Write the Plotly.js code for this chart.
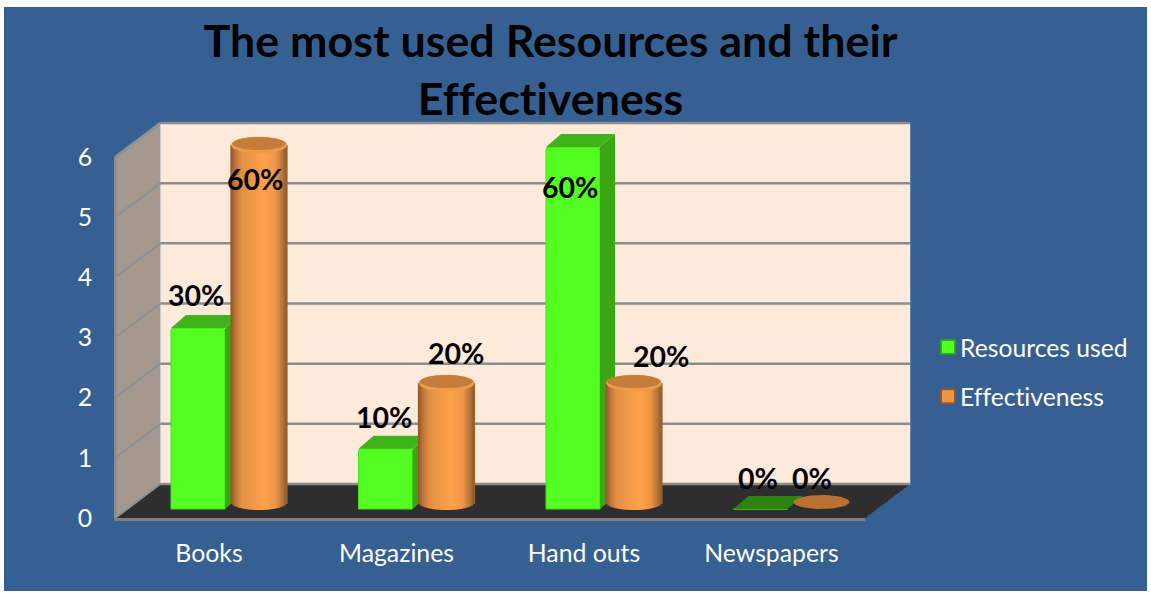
<!DOCTYPE html>
<html>
<head>
<meta charset="utf-8">
<script src="https://cdn.plot.ly/plotly-3.0.1.min.js"></script>
<style>
html,body{margin:0;padding:0;background:#fff}
svg text{font-variant-ligatures:none !important;font-feature-settings:"liga" 0,"clig" 0 !important}
</style>
</head>
<body>
<div id="chart" style="width:1151px;height:596px"></div>
<script>
// Chart data
const categories = ['Books', 'Magazines', 'Hand outs', 'Newspapers'];
const resourcesUsed = [3, 1, 6, 0];
const effectiveness = [6, 2, 2, 0];
const valueTicks = [0, 1, 2, 3, 4, 5, 6];
const resourceLabels = ['30%', '10%', '60%', '0%'];
const effectivenessLabels = ['60%', '20%', '20%', '0%'];
const chartTitle = 'The most used Resources and their<br>Effectiveness';

// Page size and the pixel scale of the coordinate frames
const W = 1151, H = 596;
const catPx = 187.5;          // pixels per category
const frontUnit = 60.17;      // pixels per value on the front frame (axis labels)
const frontZeroPx = 518, frontCatZeroPx = 209;
const barUnit = 60.33;        // pixels per value on the plane the columns stand on
const barZeroPx = 509, barCatZeroPx = 229;
const cylUnit = 59.5;         // pixels per value on the plane through the cylinder axes
const cylZeroPx = 502;
const depthX = 45, depthY = 34;  // chart box depth

// Bar geometry, in pixels
const boxWidth = 54, boxOffset = -31, boxDepthX = 15, boxDepthY = 13;
const cylWidth = 56, cylOffset = 30, cylRy = 8, stripCount = 28;

// Pixel nudges for the value labels, from each bar's top centre
const resourceNudge = [[-2, 33], [-2, 32], [-3, -39.5], [-3, 31.5]];
const effectNudge = [[-4, -31.5], [9, 35.5], [27, 32.5], [-10, 31.5]];

const font = 'Lato, Carlito, Calibri, sans-serif';
const px2cat = p => p / catPx;
const px2bar = p => p / barUnit;
const px2cyl = p => p / cylUnit;

const traces = [];
function poly(xs, ys, color, xa, ya) {
  traces.push({type: 'scatter', mode: 'lines', x: xs, y: ys, xaxis: xa, yaxis: ya,
    fill: 'toself', fillcolor: color, line: {width: 0, color: color},
    hoverinfo: 'skip', showlegend: false});
}
function stroke(xs, ys, color, width) {
  traces.push({type: 'scatter', mode: 'lines', x: xs, y: ys, xaxis: 'x', yaxis: 'y',
    line: {width: width, color: color}, hoverinfo: 'skip', showlegend: false});
}

// Chart box: walls and floor, on the front frame
const xL = -0.5, xR = categories.length - 0.5;
const dx = depthX / catPx, dy = depthY / frontUnit;
const vMax = valueTicks[valueTicks.length - 1];
poly([xL, xL + dx, xL + dx, xL], [0, dy, vMax + dy, vMax], '#A5988F', 'x', 'y');
poly([xL, xL + dx, xR + dx, xR], [0, dy, dy, 0], '#2E2E2E', 'x', 'y');
poly([xL + dx, xR + dx, xR + dx, xL + dx], [dy, dy, vMax + dy, vMax + dy], '#FDEADA', 'x', 'y');
valueTicks.forEach(v => {
  stroke([xL, xL + dx], [v, v + dy], '#8B9196', 2);
  stroke([xL + dx, xR + dx], [v + dy, v + dy], '#8C8C8C', 2.5);
});
stroke([xL, xL + dx], [vMax, vMax + dy], '#8B9196', 2.5);
stroke([xL, xL], [0, vMax], '#8A8C8E', 2.5);
stroke([xL - 0.005, xR], [-0.025, -0.025], '#7F7F7F', 3);

// Legend-only entries
traces.push({type: 'bar', name: 'Resources used', x: [null], y: [null], xaxis: 'x2', yaxis: 'y2',
  legendgroup: 'a', marker: {color: '#52FF20', line: {color: '#33A815', width: 1.5}}, hoverinfo: 'skip'});
traces.push({type: 'bar', name: 'Effectiveness', x: [null], y: [null], xaxis: 'x2', yaxis: 'y2',
  legendgroup: 'b', marker: {color: '#EE9645', line: {color: '#96591F', width: 1.5}}, hoverinfo: 'skip'});

// Resources used: square columns
traces.push({type: 'bar', name: 'Resources used', x: categories.map((_, i) => i + px2cat(boxOffset)),
  y: resourcesUsed, width: px2cat(boxWidth), xaxis: 'x2', yaxis: 'y2', showlegend: false,
  marker: {color: '#52FF20', cornerradius: 3, line: {color: '#46DC1B', width: 1}}, hoverinfo: 'x+y'});
resourcesUsed.forEach((v, i) => {
  const l = i + px2cat(boxOffset - boxWidth / 2), r = i + px2cat(boxOffset + boxWidth / 2);
  const ddx = px2cat(boxDepthX), ddy = px2bar(boxDepthY);
  if (v > 0) poly([r, r + ddx, r + ddx, r], [0, ddy, v + ddy, v], '#3CA715', 'x2', 'y2');
  poly([l, r, r + ddx, l + ddx], [v, v, v + ddy, v + ddy], v > 0 ? '#3FB31A' : '#2C8211', 'x2', 'y2');
});

// Effectiveness: cylinders, shaded with narrow vertical strips
const shadeStops = [[0, [138, 84, 36]], [0.08, [185, 115, 58]], [0.2, [227, 143, 67]], [0.6, [255, 162, 76]],
  [0.8, [238, 150, 69]], [0.93, [184, 116, 58]], [1, [143, 90, 42]]];
function shade(u) {
  for (let k = 1; k < shadeStops.length; k++) {
    if (u <= shadeStops[k][0]) {
      const a = shadeStops[k - 1], b = shadeStops[k], t = (u - a[0]) / (b[0] - a[0]);
      return 'rgb(' + a[1].map((c, j) => Math.round(c + (b[1][j] - c) * t)).join(',') + ')';
    }
  }
  return 'rgb(143,90,42)';
}
for (let k = 0; k < stripCount; k++) {
  const u = (k + 0.5) / stripCount, c = 2 * u - 1;
  const hPx = cylRy * Math.sqrt(1 - c * c);
  const offsetPx = cylOffset + c * cylWidth / 2;
  traces.push({type: 'bar', x: categories.map((_, i) => i + px2cat(offsetPx)),
    y: effectiveness.map(v => v > 0 ? v + px2cyl(hPx) : null),
    base: effectiveness.map(() => -px2cyl(hPx)),
    width: px2cat(cylWidth / stripCount + 1.2), xaxis: 'x3', yaxis: 'y3',
    marker: {color: shade(u), line: {width: 0}},
    name: 'Effectiveness', showlegend: false, hoverinfo: 'skip'});
}
function ellipse(i, v, scaleX, scaleY, shiftPx, color) {
  const xs = [], ys = [];
  for (let t = 0; t <= 48; t++) {
    const a = t / 48 * 2 * Math.PI;
    xs.push(i + px2cat(cylOffset + Math.cos(a) * cylWidth / 2 * scaleX));
    ys.push(v + px2cyl(shiftPx + Math.sin(a) * cylRy * scaleY));
  }
  poly(xs, ys, color, 'x3', 'y3');
}
effectiveness.forEach((v, i) => {
  if (v > 0) {
    ellipse(i, v, 1, 1.05, 0, '#EC9C4B');
    ellipse(i, v, 0.95, 0.82, 1.4, '#C67D39');
  } else {
    ellipse(i, v, 1, 0.88, 0, '#BA7232');
  }
});

// Value labels, anchored on the top of each bar
const annotations = [];
function addLabels(values, labels, offset, nudge) {
  values.forEach((v, i) => annotations.push({
    xref: 'x2', yref: 'y2', x: i + px2cat(offset), y: v, text: '<b>' + labels[i] + '</b>',
    showarrow: false, xanchor: 'center', yanchor: 'middle',
    xshift: nudge[i][0], yshift: nudge[i][1],
    font: {family: font, size: 28.5, color: '#000'}}));
}
addLabels(resourcesUsed, resourceLabels, boxOffset, resourceNudge);
addLabels(effectiveness, effectivenessLabels, cylOffset, effectNudge);

const barXRange = [-barCatZeroPx / catPx, (W - barCatZeroPx) / catPx];
const hiddenAxis = (range, over) => ({range, overlaying: over, visible: false, fixedrange: true});

const layout = {
  width: W, height: H, margin: {l: 0, r: 0, t: 0, b: 0},
  paper_bgcolor: '#fff', plot_bgcolor: 'rgba(0,0,0,0)', barmode: 'overlay',
  title: {text: '<b>' + chartTitle + '</b>', x: 550.5 / W, xanchor: 'center', y: 1 - 57 / H, yanchor: 'top',
    font: {family: font, size: 44.8, color: '#000'}},
  shapes: [{type: 'rect', xref: 'paper', yref: 'paper', x0: 4 / W, x1: 1147 / W, y0: 1 - 591 / H, y1: 1 - 7 / H,
    fillcolor: '#366092', line: {width: 0}, layer: 'below'}],
  xaxis: {range: [-frontCatZeroPx / catPx, (W - frontCatZeroPx) / catPx], tickvals: categories.map((_, i) => i),
    ticktext: categories, anchor: 'free', position: (H - frontZeroPx) / H, showgrid: false, zeroline: false,
    showline: false, ticks: 'outside', ticklen: 13, tickcolor: 'rgba(0,0,0,0)',
    tickfont: {family: font, size: 24.8, color: '#fff'}, fixedrange: true},
  yaxis: {range: [-(H - frontZeroPx) / frontUnit, frontZeroPx / frontUnit], tickvals: valueTicks,
    anchor: 'free', position: 115 / W, showgrid: false, zeroline: false, showline: false,
    ticks: 'outside', ticklen: 18, tickcolor: 'rgba(0,0,0,0)', ticklabelshift: -1.5,
    tickfont: {family: font, size: 24.8, color: '#fff'}, fixedrange: true},
  xaxis2: hiddenAxis(barXRange, 'x'),
  yaxis2: hiddenAxis([-(H - barZeroPx) / barUnit, barZeroPx / barUnit], 'y'),
  xaxis3: hiddenAxis(barXRange, 'x'),
  yaxis3: hiddenAxis([-(H - cylZeroPx) / cylUnit, cylZeroPx / cylUnit], 'y'),
  legend: {x: 920 / W, xanchor: 'left', y: 1 - 324.5 / H, yanchor: 'top', bgcolor: 'rgba(0,0,0,0)',
    font: {family: font, size: 24.7, color: '#fff'}, traceorder: 'grouped', tracegroupgap: 14},
  annotations
};

Plotly.newPlot('chart', traces, layout, {displayModeBar: false, responsive: false}).then(gd => {
  // Sit the legend keys closer to their text and size them up a little
  gd.querySelectorAll('.legend .traces .layers').forEach(g => {
    const t = g.getAttribute('transform') || '';
    g.setAttribute('transform', 'translate(5,0) ' + t + ' scale(1.15)');
  });
});
</script>
</body>
</html>
